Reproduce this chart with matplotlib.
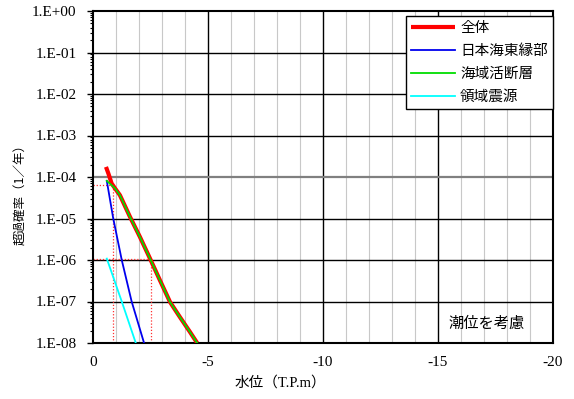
import matplotlib
matplotlib.use("Agg")
import matplotlib.pyplot as plt
import numpy as np
from matplotlib.ticker import FixedLocator, FixedFormatter, LogLocator, NullFormatter

plt.rcParams['font.family'] = ['Liberation Serif', 'Noto Sans CJK JP', 'DejaVu Sans']

# Data (x = water level magnitude, plotted 0..20, labels shown negative)
total_x = [0.565, 0.67, 0.81, 0.96]
total_y = [1.75e-4, 1.21e-4, 7.0e-5, 5.3e-5]
sea_fault_x = [0.60, 0.81, 0.96, 1.17, 1.61, 2.04, 2.48, 2.91, 3.35, 3.78, 4.22, 4.53]
sea_fault_y = [8.07e-5, 6.35e-5, 5.3e-5, 3.65e-5, 1.09e-5, 3.6e-6, 1.08e-6, 3.25e-7, 9.7e-8, 4.2e-8, 1.83e-8, 1.0e-8]
east_x = [0.60, 0.88, 1.25, 1.68, 2.22]
east_y = [8.07e-5, 1.0e-5, 1.0e-6, 1.0e-7, 1.0e-8]
area_x = [0.60, 1.25, 1.86]
area_y = [1.08e-6, 1.0e-7, 1.0e-8]

ref_points_x = [0.88, 2.51]
ref_points_y = [6.3e-5, 1.05e-6]

yticks = [1e0, 1e-1, 1e-2, 1e-3, 1e-4, 1e-5, 1e-6, 1e-7, 1e-8]
ytick_labels = ["1.E+00", "1.E-01", "1.E-02", "1.E-03", "1.E-04", "1.E-05", "1.E-06", "1.E-07", "1.E-08"]
xticks = [0, 5, 10, 15, 20]
xtick_labels = ["0", "-5", "-10", "-15", "-20"]

labels = ["全体", "日本海東縁部", "海域活断層", "領域震源"]

fig = plt.figure(figsize=(5.74, 3.99), dpi=100)
ax = fig.add_axes([93/574, 1-343/399, 460/574, 332/399])
ax.set_yscale('log')
ax.set_xlim(0, 20)
ax.set_ylim(1e-8, 1e0)

# grid
for xv in range(1, 20):
    if xv % 5 == 0:
        ax.axvline(xv, color='black', lw=1.0, zorder=1)
    else:
        ax.axvline(xv, color='#c8c8c8', lw=0.8, zorder=1)
for yv in yticks[1:-1]:
    if yv == 1e-4:
        ax.axhline(yv, color='#808080', lw=1.6, zorder=1)
    else:
        ax.axhline(yv, color='black', lw=1.0, zorder=1)

# reference dotted lines
for px, py in zip(ref_points_x, ref_points_y):
    ax.plot([0, px], [py, py], color='#ff3030', lw=0.9, ls=(0, (1, 1.5)), zorder=2)
    ax.plot([px, px], [1e-8, py], color='#ff3030', lw=0.9, ls=(0, (1, 1.5)), zorder=2)

l_total, = ax.plot(total_x + sea_fault_x[3:], total_y + sea_fault_y[3:], color='red', lw=3.0, zorder=3,
                   label=labels[0], solid_capstyle='butt')
l_east, = ax.plot(east_x, east_y, color='#0000ee', lw=1.3, zorder=4, label=labels[1])
l_sea, = ax.plot(sea_fault_x, sea_fault_y, color='#00dd00', lw=1.3, zorder=4, label=labels[2])
l_area, = ax.plot(area_x, area_y, color='cyan', lw=1.3, zorder=4, label=labels[3])

ax.yaxis.set_major_locator(FixedLocator(yticks))
ax.yaxis.set_major_formatter(FixedFormatter(ytick_labels))
ax.yaxis.set_minor_locator(LogLocator(base=10, subs=np.arange(2, 10), numticks=100))
ax.yaxis.set_minor_formatter(NullFormatter())
ax.xaxis.set_major_locator(FixedLocator(xticks))
ax.xaxis.set_major_formatter(FixedFormatter(xtick_labels))
ax.tick_params(axis='y', which='major', direction='out', length=4, width=1, labelsize=11, pad=8)
ax.tick_params(axis='y', which='minor', direction='out', length=2.5, width=0.8)
ax.tick_params(axis='x', which='major', length=0, labelsize=11, pad=9)
for s in ax.spines.values():
    s.set_linewidth(1.5)

ax.set_xlabel("水位（T.P.m）", fontsize=10.5, family=['Liberation Serif', 'Noto Sans CJK JP'])
ax.xaxis.set_label_coords(0.407, -0.099)
ax.set_ylabel("超過確率（1／年）", fontsize=9, family=['Noto Sans CJK JP'])
ax.yaxis.set_label_coords(-0.143, 0.455)

ax.text(17.1, 2.98e-8, "潮位を考慮", fontsize=11, family=['Noto Sans CJK JP'], ha='center', va='center', zorder=5)

leg = ax.legend(handles=[l_total, l_east, l_sea, l_area], loc='upper right',
                bbox_to_anchor=(1.0, 0.985), fancybox=False, framealpha=1, edgecolor='black',
                prop={'family': 'Noto Sans CJK JP', 'size': 10.5}, handlelength=3.0,
                borderpad=0.35, labelspacing=0.62, handletextpad=0.35, borderaxespad=0.0)
leg.get_frame().set_linewidth(1.0)
leg.set_zorder(6)

fig.savefig("out.png", dpi=100)
